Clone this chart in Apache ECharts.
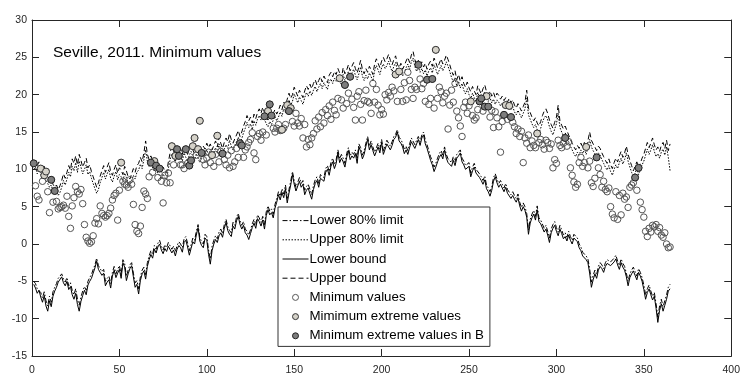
<!DOCTYPE html>
<html>
<head>
<meta charset="utf-8">
<script src="https://cdn.jsdelivr.net/npm/echarts@6/dist/echarts.min.js"></script>
<style>
html, body { margin: 0; padding: 0; background: #fff; }
#chart { width: 743px; height: 376px; }
</style>
</head>
<body>
<div id="chart"></div>
<script>
// Axis ticks
const xTicks = [0, 50, 100, 150, 200, 250, 300, 350, 400];
const yTicks = [-15, -10, -5, 0, 5, 10, 15, 20, 25, 30];

// Daily bounds, day 1..365 (degrees C)
const lowerBound = [
  -5.4, -5.9, -6.6, -6.2, -7.1, -7.8, -6.9, -8.3, -9.0, -7.6,
  -8.4, -7.0, -6.3, -5.8, -5.1, -4.9, -4.4, -5.2, -5.6, -5.0,
  -6.1, -5.7, -6.8, -7.4, -6.6, -8.1, -9.0, -7.7, -6.9, -6.2,
  -6.8, -5.5, -5.0, -4.6, -3.9, -3.2, -2.3, -3.4, -3.8, -4.2,
  -3.9, -5.6, -5.1, -4.8, -5.9, -4.3, -3.5, -4.5, -3.9, -3.4,
  -4.6, -2.5, -3.1, -4.9, -4.0, -3.3, -2.9, -4.4, -5.8, -5.4,
  -6.7, -4.9, -4.0, -3.6, -4.7, -3.0, -2.1, -1.4, -1.9, -0.7,
  -1.2, -0.4, 0.0, -0.8, -1.3, -0.6, -1.0, -0.3, -0.5, -1.2,
  -0.8, -1.6, -0.7, -0.2, -0.5, -1.1, 0.2, 0.5, -0.4, -1.5,
  -0.6, 0.3, 0.0, 1.2, 2.2, 0.4, -0.2, -0.5, 0.8, 0.5,
  -1.4, -2.7, -0.9, 0.0, 0.6, 0.2, 1.1, 1.5, 0.9, 2.1,
  2.9, 1.8, 1.3, 1.0, 2.4, 2.0, 3.1, 3.7, 2.6, 2.0,
  2.5, 1.5, 1.2, 0.6, 1.4, 2.2, 2.8, 2.1, 3.4, 3.0,
  2.4, 3.2, 2.0, 3.8, 4.6, 3.9, 4.2, 3.5, 4.8, 5.6,
  6.6, 5.9, 6.9, 6.2, 7.4, 5.5, 6.8, 7.9, 9.3, 8.0,
  7.1, 7.0, 8.4, 7.6, 8.0, 6.6, 7.2, 7.5, 6.7, 6.0,
  7.3, 8.1, 8.5, 7.6, 8.8, 9.0, 8.4, 9.6, 10.0, 9.2,
  10.4, 11.0, 10.1, 10.8, 12.2, 10.9, 11.5, 11.0, 10.3, 11.6,
  12.5, 11.3, 11.8, 11.5, 12.1, 10.8, 13.0, 12.4, 11.4, 12.0,
  13.1, 14.0, 12.6, 13.3, 12.5, 11.8, 12.4, 13.0, 12.2, 13.6,
  12.0, 12.7, 13.4, 13.5, 12.6, 13.2, 14.0, 14.3, 15.0, 13.8,
  13.5, 13.0, 12.1, 12.6, 12.0, 12.9, 13.7, 13.5, 12.8, 13.4,
  14.0, 13.2, 14.2, 14.6, 13.4, 12.8, 12.0, 11.2, 10.6, 9.7,
  10.3, 11.0, 11.6, 12.0, 11.4, 12.6, 11.5, 10.9, 11.0, 10.4,
  11.2, 10.5, 11.5, 11.8, 12.2, 11.0, 10.6, 10.0, 9.8, 10.4,
  9.0, 9.8, 10.3, 9.5, 9.6, 8.9, 8.5, 8.0, 8.6, 7.4,
  7.0, 6.4, 7.2, 8.4, 9.0, 8.2, 7.6, 8.0, 7.5, 7.0,
  7.6, 6.8, 7.0, 6.1, 6.5, 6.0, 5.6, 6.2, 5.1, 4.4,
  5.0, 4.5, 3.6, 1.3, 2.8, 3.5, 4.0, 3.2, 4.6, 3.0,
  2.7, 2.5, 1.6, 2.0, 1.2, 0.2, 1.5, 2.1, 2.5, 1.7,
  1.1, 2.0, 1.4, 0.7, 1.0, 0.4, 1.2, 0.5, 0.0, 0.8,
  1.0, 0.3, -0.5, -0.9, -1.6, -1.4, -2.1, -2.5, -3.9, -5.8,
  -4.8, -4.0, -4.6, -3.5, -3.0, -3.3, -3.8, -3.0, -2.6, -2.5,
  -2.9, -3.0, -2.4, -2.0, -2.8, -3.4, -2.5, -3.1, -3.5, -4.4,
  -5.6, -4.5, -4.0, -3.6, -4.2, -4.8, -3.8, -4.3, -5.0, -6.1,
  -7.4, -6.5, -6.0, -6.8, -7.5, -7.0, -8.6, -10.5, -8.9, -8.0,
  -9.0, -8.2, -7.4, -6.3, -6.0
];

const lowerLimit80 = [
  -5.0, -5.3, -6.0, -5.8, -6.5, -7.2, -6.4, -7.6, -8.3, -7.0,
  -7.8, -6.4, -5.8, -5.3, -4.6, -4.4, -4.0, -4.7, -5.1, -4.5,
  -5.6, -5.2, -6.2, -6.8, -6.0, -7.4, -8.2, -7.1, -6.3, -5.7,
  -6.2, -5.0, -4.5, -4.1, -3.4, -2.8, -1.9, -2.9, -3.3, -3.7,
  -3.4, -5.0, -4.6, -4.3, -5.3, -3.8, -3.0, -4.0, -3.4, -2.9,
  -4.1, -2.1, -2.6, -4.3, -3.5, -2.8, -2.5, -3.9, -5.2, -4.9,
  -6.0, -4.4, -3.5, -3.1, -4.1, -2.5, -1.6, -0.9, -1.4, -0.2,
  -0.7, 0.1, 0.5, -0.3, -0.8, -0.1, -0.5, 0.2, 0.0, -0.7,
  -0.3, -1.0, -0.2, 0.3, 0.0, -0.5, 0.7, 1.0, 0.1, -0.9,
  -0.1, 0.8, 0.5, 1.7, 2.6, 0.9, 0.3, 0.0, 1.3, 1.0,
  -0.8, -2.0, -0.3, 0.5, 1.1, 0.7, 1.6, 2.0, 1.4, 2.6,
  3.3, 2.3, 1.8, 1.5, 2.9, 2.5, 3.6, 4.1, 3.1, 2.5,
  3.0, 2.0, 1.7, 1.2, 1.9, 2.7, 3.3, 2.6, 3.9, 3.5,
  2.9, 3.7, 2.6, 4.3, 5.1, 4.4, 4.7, 4.0, 5.3, 6.1,
  7.0, 6.4, 7.4, 6.7, 7.9, 6.1, 7.3, 8.4, 9.7, 8.5,
  7.6, 7.5, 8.9, 8.1, 8.5, 7.2, 7.7, 8.0, 7.3, 6.6,
  7.8, 8.6, 9.0, 8.1, 9.3, 9.5, 8.9, 10.1, 10.5, 9.7,
  10.9, 11.5, 10.6, 11.3, 12.6, 11.4, 12.0, 11.5, 10.8, 12.1,
  12.9, 11.8, 12.3, 12.0, 12.6, 11.4, 13.4, 12.9, 11.9, 12.5,
  13.5, 14.4, 13.1, 13.8, 13.0, 12.3, 12.9, 13.5, 12.7, 14.0,
  12.5, 13.2, 13.9, 14.0, 13.1, 13.7, 14.4, 14.7, 15.3, 14.3,
  14.0, 13.5, 12.6, 13.1, 12.5, 13.4, 14.2, 14.0, 13.3, 13.9,
  14.4, 13.7, 14.6, 15.0, 13.9, 13.3, 12.5, 11.7, 11.1, 10.3,
  10.8, 11.5, 12.1, 12.5, 11.9, 13.0, 12.0, 11.4, 11.5, 10.9,
  11.7, 11.0, 12.0, 12.3, 12.6, 11.5, 11.1, 10.5, 10.3, 10.9,
  9.5, 10.3, 10.8, 10.0, 10.1, 9.4, 9.0, 8.5, 9.1, 7.9,
  7.5, 7.0, 7.7, 8.9, 9.4, 8.7, 8.1, 8.5, 8.0, 7.5,
  8.1, 7.3, 7.5, 6.6, 7.0, 6.5, 6.1, 6.7, 5.6, 4.9,
  5.5, 5.0, 4.1, 1.9, 3.3, 4.0, 4.5, 3.7, 5.1, 3.5,
  3.2, 3.0, 2.1, 2.5, 1.7, 0.8, 2.0, 2.6, 3.0, 2.2,
  1.6, 2.5, 1.9, 1.2, 1.5, 0.9, 1.7, 1.0, 0.5, 1.3,
  1.5, 0.8, 0.0, -0.4, -1.1, -0.9, -1.6, -2.0, -3.3, -5.1,
  -4.2, -3.5, -4.1, -3.0, -2.5, -2.8, -3.3, -2.5, -2.1, -2.0,
  -2.4, -2.5, -1.9, -1.5, -2.3, -2.9, -2.0, -2.6, -3.0, -3.9,
  -5.0, -4.0, -3.5, -3.1, -3.7, -4.3, -3.3, -3.8, -4.5, -5.5,
  -6.8, -6.0, -5.5, -6.3, -7.0, -6.5, -8.0, -9.8, -8.3, -7.4,
  -8.4, -7.6, -6.8, -5.8, -5.4
];

const upperBound = [
  10.9, 11.2, 10.5, 11.0, 10.3, 9.8, 10.4, 9.5, 9.0, 8.6,
  8.9, 8.0, 7.6, 7.9, 7.3, 7.8, 8.5, 9.4, 8.8, 9.6,
  10.5, 9.9, 11.4, 10.8, 11.8, 10.6, 12.0, 11.2, 10.3, 10.9,
  11.5, 10.2, 10.6, 9.7, 9.0, 8.3, 7.6, 8.2, 9.1, 9.8,
  10.5, 9.6, 10.3, 10.9, 9.7, 9.2, 10.0, 10.6, 9.5, 10.2,
  9.9, 9.3, 10.4, 9.8, 9.0, 8.7, 9.4, 10.1, 9.6, 10.5,
  10.8, 11.6, 11.0, 12.2, 13.8, 12.0, 11.3, 11.8, 11.1, 10.6,
  11.2, 10.4, 10.0, 9.6, 10.3, 9.8, 9.5, 11.0, 12.2, 13.2,
  12.4, 11.9, 13.0, 12.3, 12.8, 12.0, 13.1, 12.5, 12.0, 12.8,
  13.3, 12.6, 12.1, 13.0, 12.4, 11.8, 12.3, 13.1, 12.7, 13.5,
  12.9, 13.4, 12.6, 13.2, 13.8, 13.0, 14.3, 13.5, 12.8, 13.6,
  14.2, 13.7, 14.8, 14.0, 13.5, 14.1, 14.6, 15.2, 14.4, 15.0,
  15.8, 16.4, 17.2, 16.5, 17.0, 16.2, 17.4, 16.8, 17.6, 18.1,
  17.5, 18.3, 17.6, 17.0, 16.6, 17.3, 16.9, 17.5, 18.0, 17.4,
  17.9, 18.6, 18.0, 19.0, 18.5, 19.4, 20.2, 19.5, 20.0, 21.0,
  20.4, 19.8, 20.6, 20.1, 19.6, 20.5, 21.2, 20.7, 21.4, 20.8,
  21.5, 22.0, 21.3, 21.9, 22.4, 21.7, 22.5, 22.0, 21.6, 22.6,
  23.0, 22.4, 23.1, 22.7, 23.5, 22.9, 22.2, 23.6, 22.8, 23.3,
  24.0, 23.2, 23.8, 24.3, 23.5, 22.9, 23.7, 24.6, 23.4, 22.8,
  23.5, 23.0, 23.8, 23.3, 22.7, 24.1, 24.8, 24.2, 23.6, 24.5,
  25.0, 24.4, 24.8, 25.4, 24.6, 24.0, 24.7, 25.2, 24.1, 23.6,
  24.2, 23.4, 23.9, 24.5, 25.0, 24.3, 25.3, 25.8, 24.7, 24.0,
  24.6, 23.9, 24.4, 23.7, 24.2, 23.4, 24.1, 24.5, 23.8, 24.9,
  24.3, 23.6, 24.2, 24.8, 24.1, 24.6, 25.3, 24.7, 24.0, 23.2,
  22.6, 23.2, 22.0, 22.7, 21.8, 22.4, 21.5, 21.0, 21.7, 20.9,
  20.4, 21.1, 20.5, 20.0, 21.2, 20.6, 20.1, 20.8, 21.3, 20.4,
  20.0, 20.5, 19.8, 20.3, 19.6, 20.2, 19.9, 19.4, 19.8, 19.2,
  19.6, 19.0, 19.5, 18.9, 19.3, 18.6, 18.2, 18.8, 18.3, 17.8,
  18.4, 19.0, 20.6, 18.2, 17.6, 17.0, 16.5, 16.9, 16.2, 15.8,
  16.4, 17.2, 17.8, 18.1, 17.5, 16.6, 16.0, 15.5, 16.3, 17.0,
  18.6, 16.5, 15.9, 15.4, 15.8, 15.2, 14.6, 14.0, 13.5, 13.0,
  12.6, 13.2, 12.8, 13.5, 13.0, 13.6, 12.9, 13.8, 15.0, 13.9,
  13.4, 13.0, 12.5, 13.1, 12.8, 12.2, 11.7, 11.2, 10.8, 11.4,
  10.6, 10.1, 10.9, 11.5, 11.0, 11.8, 12.4, 11.6, 12.2, 13.1,
  12.0, 11.2, 10.5, 9.8, 10.4, 11.0, 10.2, 10.8, 11.5, 12.0,
  12.8, 13.6, 12.9, 13.5, 14.2, 13.3, 12.6, 13.0, 12.4, 13.2,
  13.6, 12.8, 13.9, 12.5, 13.4
];

const upperLimit80 = [
  10.0, 10.3, 9.4, 10.1, 9.4, 8.8, 9.5, 8.6, 8.1, 7.6,
  7.9, 7.1, 6.7, 7.0, 6.5, 6.9, 7.6, 8.5, 7.9, 8.7,
  9.6, 9.0, 10.4, 9.8, 10.9, 9.6, 11.1, 10.3, 9.4, 10.0,
  10.6, 9.3, 9.7, 8.8, 8.1, 7.4, 6.8, 7.3, 8.2, 8.9,
  9.6, 8.7, 9.4, 10.0, 8.8, 8.3, 9.1, 9.7, 8.6, 9.3,
  9.0, 8.4, 9.5, 8.9, 8.1, 7.8, 8.5, 9.2, 8.7, 9.6,
  9.9, 10.7, 10.1, 11.3, 12.6, 11.1, 10.4, 10.9, 10.2, 9.7,
  10.3, 9.5, 9.1, 8.7, 9.4, 8.9, 8.6, 10.1, 11.3, 12.1,
  11.5, 11.0, 12.1, 11.4, 11.9, 11.1, 12.2, 11.6, 11.1, 11.9,
  12.4, 11.7, 11.2, 12.1, 11.5, 10.9, 11.4, 12.2, 11.8, 12.6,
  12.0, 12.5, 11.7, 12.3, 12.9, 12.1, 13.4, 12.6, 11.9, 12.7,
  13.3, 12.8, 13.9, 13.1, 12.6, 13.2, 13.7, 14.3, 13.5, 14.1,
  14.9, 15.5, 16.3, 15.6, 16.1, 15.3, 16.5, 15.9, 16.7, 17.2,
  16.6, 17.4, 16.7, 16.1, 15.7, 16.4, 16.0, 16.6, 17.1, 16.5,
  17.0, 17.7, 17.1, 18.1, 17.6, 18.5, 19.3, 18.6, 19.1, 20.1,
  19.5, 18.9, 19.7, 19.2, 18.7, 19.6, 20.3, 19.8, 20.5, 19.9,
  20.6, 21.1, 20.4, 21.0, 21.5, 20.8, 21.6, 21.1, 20.7, 21.7,
  22.1, 21.5, 22.2, 21.8, 22.6, 22.0, 21.3, 22.7, 21.9, 22.4,
  23.1, 22.3, 22.9, 23.4, 22.6, 22.0, 22.8, 23.7, 22.5, 21.9,
  22.6, 22.1, 22.9, 22.4, 21.8, 23.2, 23.9, 23.3, 22.7, 23.6,
  24.1, 23.5, 23.9, 24.5, 23.7, 23.1, 23.8, 24.3, 23.2, 22.7,
  23.3, 22.5, 23.0, 23.6, 24.1, 23.4, 24.4, 24.9, 23.8, 23.1,
  23.7, 23.0, 23.5, 22.8, 23.3, 22.5, 23.2, 23.6, 22.9, 24.0,
  23.4, 22.7, 23.3, 23.9, 23.2, 23.7, 24.4, 23.8, 23.1, 22.3,
  21.7, 22.3, 21.1, 21.8, 20.9, 21.5, 20.6, 20.1, 20.8, 20.0,
  19.5, 20.2, 19.6, 19.1, 20.3, 19.7, 19.2, 19.9, 20.4, 19.5,
  19.1, 19.6, 18.9, 19.4, 18.7, 19.3, 19.0, 18.5, 18.9, 18.3,
  18.7, 18.1, 18.6, 18.0, 18.4, 17.7, 17.3, 17.9, 17.4, 16.9,
  17.5, 18.1, 19.5, 17.3, 16.7, 16.1, 15.6, 16.0, 15.3, 14.9,
  15.5, 16.3, 16.9, 17.2, 16.6, 15.7, 15.1, 14.6, 15.4, 16.1,
  17.5, 15.6, 15.0, 14.5, 14.9, 14.3, 13.7, 13.1, 12.6, 12.1,
  11.7, 12.3, 11.9, 12.6, 12.1, 12.7, 12.0, 12.9, 14.0, 13.0,
  12.5, 12.1, 11.6, 12.2, 11.9, 11.3, 10.8, 10.3, 9.9, 10.5,
  9.7, 9.2, 10.0, 10.6, 10.1, 10.9, 11.5, 10.7, 11.3, 12.2,
  11.1, 10.3, 9.6, 8.9, 9.5, 10.1, 9.3, 9.9, 10.6, 11.1,
  11.9, 12.7, 12.0, 12.6, 13.3, 12.4, 11.7, 12.1, 11.5, 12.3,
  12.7, 11.9, 13.0, 11.6, 9.8
];

// Observed daily minimum temperatures
const minValues = [
  10.8, 7.8, 6.4, 5.9, 10.1, 8.4, 9.2, 9.7, 7.0, 4.2,
  8.6, 5.6, 7.1, 5.7, 4.7, 4.9, 5.0, 5.2, 4.8, 6.4,
  3.7, 2.1, 5.1, 6.2, 7.7, 7.0, 6.7, 7.3, 5.4, 2.6,
  0.9, 0.4, 0.1, 0.3, 1.1, 2.8, 3.4, 2.7, 5.1, 4.1,
  3.8, 3.6, 3.8, 4.1, 4.8, 5.9, 6.5, 6.8, 3.2, 7.2,
  10.9, 8.4, 8.0, 7.9, 7.6, 8.6, 8.0, 5.3, 2.6, 1.7,
  1.4, 2.4, 4.9, 7.1, 6.7, 6.1, 9.0, 10.9, 9.6, 11.1,
  10.5, 8.9, 10.1, 8.4, 5.5, 9.2, 8.2, 9.5, 8.2, 13.1,
  10.6, 11.8, 12.7, 11.8, 10.6, 10.6, 10.1, 12.7, 10.8, 10.5,
  11.2, 13.1, 14.2, 11.9, 12.7, 16.5, 12.2, 11.3, 10.6, 11.5,
  12.3, 10.9, 11.9, 10.4, 12.0, 14.5, 11.0, 12.4, 12.1, 11.3,
  10.6, 11.9, 10.2, 12.5, 10.4, 11.0, 12.8, 11.6, 13.5, 13.2,
  11.6, 12.6, 13.0, 13.6, 14.0, 14.9, 12.2, 11.3, 14.4, 14.8,
  13.9, 15.0, 17.1, 14.6, 17.8, 18.7, 17.2, 15.5, 15.0, 15.5,
  16.0, 15.2, 15.3, 15.5, 16.0, 18.6, 17.8, 18.2, 16.4, 15.8,
  17.5, 16.2, 15.8, 16.8, 14.2, 16.0, 13.0, 14.0, 13.3, 14.2,
  14.8, 16.5, 15.4, 17.0, 15.7, 17.6, 16.2, 18.0, 17.2, 18.5,
  16.7, 19.0, 17.9, 17.3, 19.5, 22.2, 19.3, 18.2, 21.3, 18.8,
  20.2, 22.4, 19.4, 18.3, 16.6, 19.8, 20.4, 18.7, 16.6, 19.2,
  20.6, 19.1, 18.9, 17.5, 21.5, 19.0, 20.7, 18.6, 17.3, 18.0,
  17.4, 20.0, 19.3, 20.3, 19.8, 21.0, 20.5, 22.7, 19.1, 23.1,
  20.7, 19.1, 21.6, 19.3, 23.0, 21.9, 20.7, 19.5, 21.0, 20.7,
  24.0, 22.1, 20.8, 21.5, 19.1, 22.0, 18.7, 19.5, 22.1, 18.2,
  26.0, 19.5, 21.0, 20.4, 18.9, 19.8, 20.2, 15.4, 18.6, 20.6,
  19.0, 21.5, 17.8, 16.9, 15.8, 14.4, 18.3, 19.0, 17.5, 18.5,
  19.1, 17.2, 16.6, 16.9, 18.0, 19.1, 19.5, 17.8, 18.4, 19.8,
  18.4, 17.0, 17.9, 15.6, 17.7, 16.9, 15.7, 12.3, 16.4, 17.3,
  18.6, 16.7, 18.5, 17.0, 16.3, 15.7, 14.8, 15.4, 14.4, 15.1,
  10.9, 14.2, 13.5, 14.6, 12.9, 13.8, 13.2, 12.9, 14.8, 13.6,
  14.0, 13.3, 12.7, 13.9, 13.6, 12.8, 13.4, 10.2, 11.3, 10.8,
  13.9, 13.2, 12.9, 13.5, 14.2, 13.1, 13.7, 10.2, 9.2, 8.3,
  7.6, 8.0, 10.9, 11.6, 10.4, 10.9, 13.0, 10.2, 11.1, 8.2,
  7.7, 8.8, 11.6, 10.2, 9.3, 7.6, 8.4, 7.3, 7.0, 7.5,
  5.0, 4.0, 3.5, 7.0, 3.3, 6.5, 3.9, 6.8, 6.0, 6.3,
  4.9, 7.6, 7.9, 8.2, 8.9, 7.2, 10.2, 5.6, 4.6, 3.6,
  1.7, 1.0, 2.1, 1.6, 2.5, 2.3, 2.6, 1.7, 2.2, 1.2,
  0.9, 1.5, 0.0, -0.5, -0.4
];

// Days flagged as extreme minimums, and those also falling in region B
const extremeDays = [5, 7, 8, 51, 70, 80, 82, 92, 93, 95, 96, 103, 106, 135, 143, 146, 148,
  176, 208, 210, 231, 251, 260, 271, 273, 289, 317];
const extremeDaysB = [1, 11, 13, 68, 71, 73, 83, 84, 88, 90, 91, 97, 109, 119, 120, 133, 136,
  137, 147, 179, 182, 221, 226, 229, 256, 257, 259, 261, 270, 274, 305, 323, 345, 347];

const FONT = '"Liberation Sans", Arial, Helvetica, sans-serif';
const AXIS_COLOR = '#262626';

const byDay = arr => arr.map((v, i) => [i + 1, v]);
const pick = days => days.map(d => [d, minValues[d - 1]]);

function lineSeries(name, data, dash) {
  return {
    name: name,
    type: 'line',
    data: byDay(data),
    symbol: 'none',
    silent: true,
    animation: false,
    color: '#000',
    lineStyle: { color: '#000', width: 1, type: dash }
  };
}

function scatterSeries(style, data, z) {
  return {
    name: style.name,
    type: 'scatter',
    data: data,
    symbol: 'circle',
    symbolSize: style.size,
    silent: true,
    animation: false,
    z: z,
    itemStyle: { color: style.fill, borderColor: style.stroke, borderWidth: 1, opacity: 1 }
  };
}

const lineNames = ['Lower 80% limit', 'Upper 80% limit', 'Lower bound', 'Upper bound'];
const lineDashes = [[5, 2, 1.5, 2], [1.5, 1.5], 'solid', [5, 3]];
const pointStyles = [
  { name: 'Minimum values', fill: 'rgba(255,255,255,0)', stroke: '#555', size: 6.5 },
  { name: 'Mimimum extreme values', fill: '#d5d2c9', stroke: '#333', size: 7 },
  { name: 'Minimum extreme values in B', fill: '#7d7d7d', stroke: '#222', size: 7 }
];
const hiddenIcon = { color: 'rgba(0,0,0,0)', borderColor: 'rgba(0,0,0,0)', borderWidth: 0 };

function axisBase(ticks, pos, showLabels) {
  return {
    type: 'value',
    position: pos,
    min: ticks[0],
    max: ticks[ticks.length - 1],
    interval: ticks[1] - ticks[0],
    axisLine: { show: true, onZero: false, lineStyle: { color: AXIS_COLOR, width: 1 } },
    axisTick: { show: true, inside: true, length: 7, lineStyle: { color: AXIS_COLOR, width: 1 } },
    splitLine: { show: false },
    axisLabel: { show: showLabels, color: AXIS_COLOR, fontSize: 10.5, fontFamily: FONT }
  };
}

const xBottom = axisBase(xTicks, 'bottom', true);
xBottom.axisLabel.margin = 9;
const xTop = axisBase(xTicks, 'top', false);
const yLeft = axisBase(yTicks, 'left', true);
yLeft.axisLabel.margin = 5;
const yRight = axisBase(yTicks, 'right', false);

const chart = echarts.init(document.getElementById('chart'), null, { renderer: 'canvas' });
chart.setOption({
  animation: false,
  backgroundColor: '#fff',
  title: {
    text: 'Seville, 2011. Minimum values',
    left: 53,
    top: 45,
    padding: 0,
    textStyle: { fontSize: 15.5, fontWeight: 'normal', color: '#000', fontFamily: FONT }
  },
  grid: { left: 32, right: 7, top: 20, bottom: 19, containLabel: false },
  xAxis: [xBottom, xTop],
  yAxis: [yLeft, yRight],
  legend: {
    orient: 'vertical',
    left: 278,
    top: 207,
    padding: [4, 6, 1, 4],
    itemGap: 0,
    itemWidth: 26,
    itemHeight: 6,
    backgroundColor: '#fff',
    borderColor: '#333',
    borderWidth: 1,
    selectedMode: false,
    textStyle: { fontSize: 13.3, lineHeight: 19.2, color: '#000', fontFamily: FONT, padding: [0, 0, 0, -4] },
    data: lineNames.map((n, i) => ({
      name: n,
      itemStyle: hiddenIcon,
      lineStyle: { color: '#000', width: 1, type: lineDashes[i] }
    })).concat(pointStyles.map(s => ({
      name: s.name,
      itemStyle: { color: s.fill, borderColor: s.stroke, borderWidth: 1 }
    })))
  },
  series: [
    lineSeries(lineNames[0], lowerLimit80, lineDashes[0]),
    lineSeries(lineNames[1], upperLimit80, lineDashes[1]),
    lineSeries(lineNames[2], lowerBound, lineDashes[2]),
    lineSeries(lineNames[3], upperBound, lineDashes[3]),
    scatterSeries(pointStyles[0], byDay(minValues), 3),
    scatterSeries(pointStyles[1], pick(extremeDays), 4),
    scatterSeries(pointStyles[2], pick(extremeDaysB), 5)
  ]
});
</script>
</body>
</html>
